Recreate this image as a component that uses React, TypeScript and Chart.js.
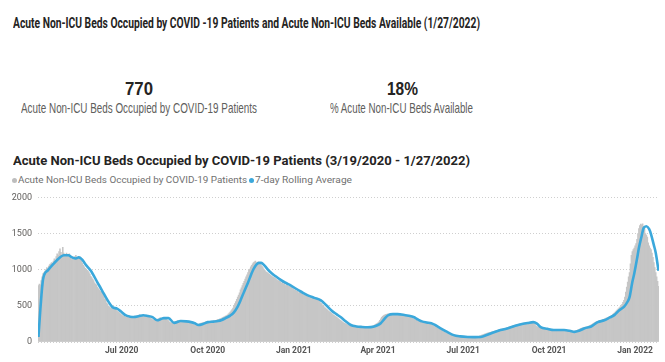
import React, { useEffect, useLayoutEffect, useRef } from "react";
import { Chart, registerables } from "chart.js";

Chart.register(...registerables);

// Daily acute non-ICU beds occupied by COVID-19 patients (one value per day)
const dailyOccupied: number[] = [
  780, 800, 790, 850, 900, 945, 960,
  980, 1000, 1030, 1020, 1050, 1070, 1080,
  1100, 1090, 1120, 1150, 1130, 1180, 1220,
  1200, 1250, 1290, 1240, 1200, 1310, 1230,
  1200, 1180, 1230, 1210, 1190, 1220, 1160,
  1140, 1170, 1150, 1130, 1180, 1200, 1160,
  1170, 1150, 1180, 1130, 1120, 1090, 1060,
  1040, 1020, 1010, 990, 980, 960, 940,
  910, 890, 870, 850, 820, 800, 790,
  760, 740, 720, 700, 690, 680, 660,
  630, 590, 585, 540, 525, 495, 485,
  470, 480, 460, 475, 455, 470, 450,
  430, 420, 410, 395, 385, 375, 365,
  360, 355, 340, 350, 345, 335, 350,
  340, 350, 345, 355, 340, 360, 350,
  360, 370, 355, 375, 365, 370, 360,
  365, 360, 350, 365, 345, 350, 340,
  340, 330, 320, 310, 305, 300, 295,
  305, 315, 320, 325, 335, 330, 325,
  335, 325, 330, 320, 310, 300, 295,
  280, 270, 265, 260, 270, 275, 280,
  285, 290, 295, 285, 290, 280, 290,
  285, 280, 290, 275, 280, 270, 265,
  265, 260, 255, 250, 245, 240, 235,
  235, 240, 238, 245, 250, 255, 260,
  262, 268, 272, 275, 278, 280, 282,
  280, 285, 283, 290, 286, 288, 292,
  295, 300, 305, 310, 315, 320, 325,
  330, 338, 345, 352, 358, 365, 372,
  385, 400, 415, 430, 450, 470, 500,
  530, 560, 590, 620, 650, 680, 720,
  750, 780, 810, 840, 870, 900, 930,
  960, 990, 1010, 1040, 1060, 1080, 1100,
  1110, 1120, 1100, 1090, 1110, 1095, 1080,
  1065, 1045, 1030, 1010, 990, 975, 965,
  955, 945, 935, 925, 915, 905, 895,
  890, 880, 870, 860, 850, 845, 840,
  830, 810, 825, 800, 810, 780, 795,
  785, 775, 770, 760, 755, 745, 740,
  735, 715, 720, 700, 705, 680, 690,
  680, 670, 665, 655, 650, 645, 640,
  640, 620, 625, 610, 615, 600, 605,
  600, 595, 590, 585, 580, 575, 565,
  560, 535, 530, 505, 500, 475, 470,
  455, 445, 430, 420, 410, 400, 390,
  380, 370, 360, 350, 340, 330, 320,
  310, 300, 290, 280, 270, 262, 255,
  248, 242, 236, 230, 226, 222, 220,
  218, 215, 213, 212, 210, 209, 208,
  207, 206, 206, 205, 205, 204, 205,
  205, 206, 207, 208, 210, 212, 215,
  220, 225, 232, 240, 248, 256, 265,
  280, 300, 320, 340, 355, 365, 372,
  378, 382, 385, 388, 386, 388, 385,
  386, 384, 385, 383, 384, 382, 380,
  380, 378, 376, 374, 372, 370, 367,
  365, 362, 358, 355, 352, 348, 345,
  338, 330, 320, 312, 305, 298, 292,
  288, 283, 280, 277, 274, 271, 270,
  268, 266, 264, 262, 260, 256, 250,
  242, 235, 228, 220, 212, 205, 198,
  190, 182, 175, 168, 160, 152, 145,
  138, 130, 124, 118, 112, 106, 100,
  95, 92, 88, 85, 82, 80, 78,
  77, 76, 75, 74, 73, 72, 71,
  71, 70, 69, 68, 68, 68, 68,
  68, 68, 69, 69, 70, 70, 71,
  72, 75, 80, 85, 90, 95, 100,
  104, 108, 113, 118, 122, 126, 130,
  133, 137, 141, 145, 149, 152, 156,
  160, 163, 167, 170, 174, 177, 180,
  184, 187, 190, 194, 198, 202, 206,
  210, 214, 218, 222, 226, 230, 234,
  238, 241, 244, 247, 250, 252, 255,
  258, 260, 262, 264, 266, 268, 270,
  272, 275, 278, 280, 270, 255, 240,
  225, 215, 210, 205, 200, 195, 192,
  190, 188, 185, 183, 181, 179, 177,
  176, 174, 172, 170, 168, 166, 165,
  165, 164, 165, 166, 165, 164, 165,
  163, 162, 160, 158, 157, 156, 155,
  150, 146, 143, 140, 138, 140, 145,
  150, 155, 160, 167, 174, 181, 188,
  192, 196, 199, 202, 205, 208, 211,
  215, 222, 230, 238, 246, 254, 262,
  270, 276, 281, 285, 289, 293, 297,
  300, 306, 312, 318, 324, 330, 336,
  342, 348, 354, 360, 370, 380, 392,
  405, 418, 432, 446, 460, 472, 485,
  500, 520, 550, 575, 620, 690, 760,
  830, 900, 960, 1080, 1200, 1250, 1280,
  1300, 1330, 1360, 1420, 1500, 1570, 1610,
  1630, 1620, 1635, 1600, 1570, 1500, 1480,
  1450, 1370, 1330, 1300, 1280, 1230, 1170,
  1100, 1030, 960, 900, 840, 770,
];

// 7-day rolling average (day index, value)
const avgDays: number[] = [
  0, 2, 5, 10, 16, 22, 27, 32, 36, 40, 43, 47, 50, 56, 63, 68, 74, 79, 84, 88,
  93, 98, 102, 107, 112, 117, 122, 127, 131, 134, 139, 145, 152, 158, 163, 167,
  171, 176, 181, 187, 192, 196, 200, 205, 209, 213, 216, 220, 224, 227, 230, 233,
  236, 238, 240, 243, 246, 250, 254, 259, 264, 270, 275, 281, 288, 295, 302, 308,
  313, 318, 323, 328, 334, 340, 346, 352, 358, 363, 366, 370, 374, 379, 384, 390,
  396, 401, 406, 410, 415, 420, 425, 430, 437, 444, 451, 459, 466, 473, 480, 487,
  494, 502, 509, 516, 523, 529, 533, 537, 544, 551, 558, 562, 568, 573, 578, 584,
  591, 598, 605, 611, 616, 621, 626, 630, 632, 635, 637, 640, 642, 645, 647, 650,
  653, 655, 658, 660, 663,
];
const avgValues: number[] = [
  70, 450, 875, 990, 1080, 1160, 1200, 1200, 1170, 1155, 1170, 1137, 1078, 986, 826, 712, 575, 484, 461, 425,
  370, 350, 345, 355, 370, 360, 345, 300, 318, 330, 330, 265, 290, 285, 275, 260,
  235, 250, 275, 282, 290, 305, 330, 365, 410, 490, 575, 700, 820, 920, 1010, 1070,
  1095, 1095, 1080, 1040, 990, 945, 905, 860, 820, 780, 740, 695, 645, 610, 575, 505,
  440, 390, 345, 290, 235, 215, 208, 205, 212, 235, 260, 320, 370, 385, 385, 378,
  362, 345, 310, 285, 270, 260, 228, 190, 140, 95, 78, 70, 68, 70, 100, 135,
  165, 190, 220, 245, 262, 275, 255, 205, 182, 165, 165, 165, 155, 140, 155, 190,
  215, 275, 300, 340, 375, 440, 485, 560, 620, 830, 945, 1150, 1300, 1470, 1575, 1600,
  1560, 1490, 1340, 1235, 985,
];

// Axis ticks
const xTickDays: number[] = [89, 181, 273, 363, 454, 546, 638];
const xTickLabels: string[] = ["Jul 2020", "Oct 2020", "Jan 2021", "Apr 2021", "Jul 2021", "Oct 2021", "Jan 2022"];
const yTicks: number[] = [0, 500, 1000, 1500, 2000];

// KPI cards
const kpiOccupied = "770";
const kpiOccupiedLabel = "Acute Non-ICU Beds Occupied by COVID-19 Patients";
const kpiAvailable = "18%";
const kpiAvailableLabel = "% Acute Non-ICU Beds Available";

const pageTitle = "Acute Non-ICU Beds Occupied by COVID -19 Patients and Acute Non-ICU Beds Available (1/27/2022)";
const chartTitle = "Acute Non-ICU Beds Occupied by COVID-19 Patients (3/19/2020 - 1/27/2022)";
const seriesBarsName = "Acute Non-ICU Beds Occupied by COVID-19 Patients";
const seriesLineName = "7-day Rolling Average";

const BAR_COLOR = "#c6c6c6";
const LINE_COLOR = "#3ba8db";
const DARK = "#252423";
const GREY_TEXT = "#605e5c";

type FitProps = {
  text: string;
  left: number;
  width: number;
  baseline: number;
  size: number;
  family: string;
  weight?: number;
  color: string;
};

function FitText({ text, left, width, baseline, size, family, weight = 400, color }: FitProps) {
  const ref = useRef<HTMLSpanElement>(null);
  useLayoutEffect(() => {
    const el = ref.current;
    if (!el) return;
    const c = document.createElement("canvas").getContext("2d")!;
    c.font = `${weight} ${size}px ${family}`;
    const m = c.measureText(text);
    const asc = (m as any).fontBoundingBoxAscent ?? size * 0.9;
    const desc = (m as any).fontBoundingBoxDescent ?? size * 0.22;
    const off = (size - (asc + desc)) / 2 + asc;
    el.style.top = `${baseline - off}px`;
    el.style.transform = `scaleX(${width / m.width})`;
  }, [text, left, width, baseline, size, family, weight]);
  return (
    <span
      ref={ref}
      style={{
        position: "absolute",
        left,
        top: baseline - size,
        fontFamily: family,
        fontSize: size,
        fontWeight: weight,
        color,
        lineHeight: `${size}px`,
        whiteSpace: "nowrap",
        transformOrigin: "0 0",
      }}
    >
      {text}
    </span>
  );
}

export default function App() {
  const canvasRef = useRef<HTMLCanvasElement>(null);

  useEffect(() => {
    const canvas = canvasRef.current;
    if (!canvas) return;
    const chart = new Chart(canvas, {
      type: "bar",
      data: {
        datasets: [
          {
            type: "line",
            label: seriesLineName,
            data: avgDays.map((d, k) => ({ x: d, y: avgValues[k] })),
            borderColor: LINE_COLOR,
            backgroundColor: LINE_COLOR,
            borderWidth: 2.6,
            pointRadius: 0,
            cubicInterpolationMode: "monotone",
            order: 0,
          } as any,
          {
            type: "bar",
            label: seriesBarsName,
            data: dailyOccupied.map((v, i) => ({ x: i, y: v })),
            backgroundColor: BAR_COLOR,
            borderWidth: 0,
            barPercentage: 1,
            categoryPercentage: 1,
            order: 1,
          } as any,
        ],
      },
      options: {
        animation: false,
        responsive: false,
        maintainAspectRatio: false,
        layout: { padding: { left: 0, right: 6, top: 10, bottom: 0 } },
        plugins: {
          legend: { display: false },
          tooltip: { enabled: false },
          title: { display: false },
        },
        scales: {
          x: {
            type: "linear",
            min: -0.5,
            max: dailyOccupied.length - 0.5,
            offset: false,
            grid: { display: false, drawTicks: false },
            border: { display: false },
            afterFit: (s: any) => {
              s.height = 20;
            },
            afterBuildTicks: (s: any) => {
              s.ticks = xTickDays.map((v) => ({ value: v }));
            },
            ticks: {
              autoSkip: false,
              maxRotation: 0,
              padding: 4,
              color: "#555555",
              font: { family: "Roboto", size: 8.5, weight: "bold" },
              callback: (_v: any, idx: number) => xTickLabels[idx],
            },
          } as any,
          y: {
            min: 0,
            max: 2000,
            afterFit: (s: any) => {
              s.width = 38;
            },
            afterBuildTicks: (s: any) => {
              s.ticks = yTicks.map((v) => ({ value: v }));
            },
            grid: { color: "#cfcfcf", lineWidth: 1, drawTicks: false, borderDash: [1, 2] },
            border: { display: false, dash: [1, 2] },
            ticks: {
              padding: 6,
              color: "#605e5c",
              font: { family: "Roboto", size: 9 },
              callback: (v: any) => String(v),
            },
          } as any,
        },
      },
    });
    return () => chart.destroy();
  }, []);

  return (
    <div style={{ position: "fixed", left: 0, top: 0, width: 665, height: 362, background: "#fff", overflow: "hidden" }}>
      <FitText text={pageTitle} left={13} width={467} baseline={29} size={14.5} family="Roboto" weight={700} color={DARK} />

      <FitText text={kpiOccupied} left={124.5} width={28} baseline={95} size={19} family='"Liberation Sans"' weight={700} color={DARK} />
      <FitText text={kpiOccupiedLabel} left={21} width={236} baseline={113} size={14.5} family='"Liberation Sans"' color={GREY_TEXT} />
      <FitText text={kpiAvailable} left={386.5} width={31} baseline={95} size={19} family='"Liberation Sans"' weight={700} color={DARK} />
      <FitText text={kpiAvailableLabel} left={330} width={144} baseline={113} size={14.5} family='"Liberation Sans"' color={GREY_TEXT} />

      <FitText text={chartTitle} left={13} width={457} baseline={166} size={12.5} family="Roboto" weight={700} color={DARK} />

      <span style={{ position: "absolute", left: 11.5, top: 177.5, width: 5, height: 5, borderRadius: "50%", background: "#bdbdbd" }} />
      <FitText text={seriesBarsName} left={18} width={229} baseline={183} size={8.5} family="Roboto" color="#707070" />
      <span style={{ position: "absolute", left: 248.5, top: 177.5, width: 5, height: 5, borderRadius: "50%", background: LINE_COLOR }} />
      <FitText text={seriesLineName} left={255} width={97} baseline={183} size={8.5} family="Roboto" color="#707070" />

      <canvas ref={canvasRef} width={665} height={176} style={{ position: "absolute", left: 0, top: 186, width: 665, height: 176 }} />
    </div>
  );
}
